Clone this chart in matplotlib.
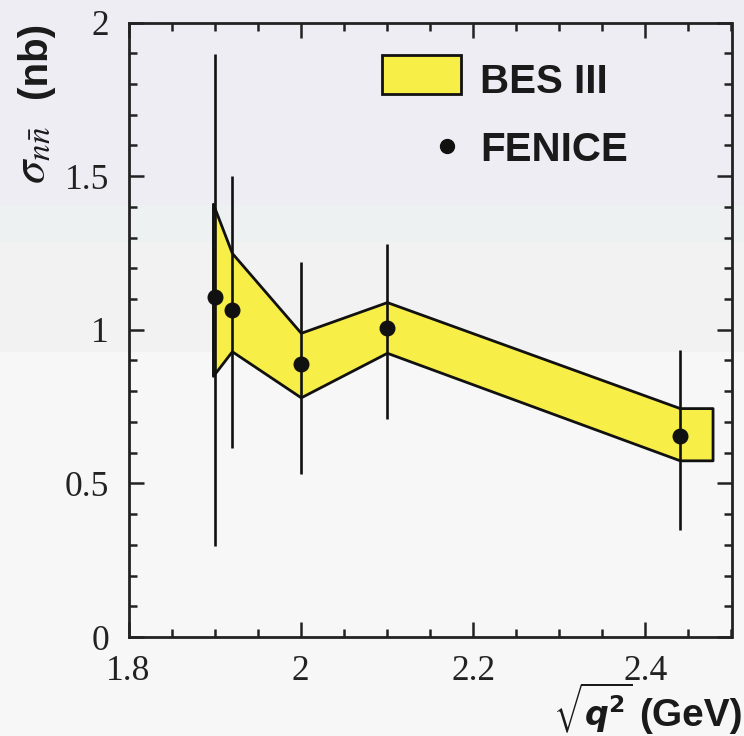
import matplotlib
matplotlib.use("Agg")
import matplotlib.pyplot as plt
from matplotlib.patches import Rectangle
from matplotlib.ticker import MultipleLocator, FixedLocator, FixedFormatter

# BES III band (lower / upper edge of the measured cross section, nb)
band_x = [1.898, 1.92, 2.0, 2.1, 2.44, 2.478]
band_lo = [0.85, 0.93, 0.78, 0.925, 0.575, 0.575]
band_hi = [1.41, 1.25, 0.99, 1.09, 0.745, 0.745]

# FENICE points with asymmetric errors (nb)
fen_x = [1.9, 1.92, 2.0, 2.1, 2.44]
fen_y = [1.107, 1.065, 0.89, 1.005, 0.655]
fen_err_lo = [0.81, 0.45, 0.36, 0.295, 0.307]
fen_err_hi = [0.79, 0.435, 0.33, 0.275, 0.28]

x_ticks = [1.8, 2.0, 2.2, 2.4]
x_ticklabels = ["1.8", "2", "2.2", "2.4"]
y_ticks = [0, 0.5, 1, 1.5, 2]
y_ticklabels = ["0", "0.5", "1", "1.5", "2"]

W, H = 744, 736
fig = plt.figure(figsize=(W / 100, H / 100), dpi=100)

# soft horizontal background bands (pixel rows from the top)
bg_bands = [(0, 205, "#eeedf3"), (205, 242, "#eef1f2"),
            (242, 352, "#f2f2f2"), (352, 736, "#f7f7f7")]
for top, bot, col in bg_bands:
    fig.add_artist(Rectangle((0, 1 - bot / H), 1, (bot - top) / H,
                             transform=fig.transFigure, facecolor=col,
                             edgecolor="none", zorder=-10))

ax = fig.add_axes([128.5 / W, (H - 637) / H, 603 / W, 614.5 / H])
ax.set_facecolor("none")

yellow = "#f8ee48"
ax.fill_between(band_x, band_lo, band_hi, facecolor=yellow,
                edgecolor="#111111", linewidth=2.0, zorder=2)

ax.errorbar(fen_x, fen_y, yerr=[fen_err_lo, fen_err_hi], fmt="o",
            color="#111111", markersize=10.5, elinewidth=1.9, capsize=0,
            zorder=3)

ax.set_xlim(1.8, 2.5)
ax.set_ylim(0, 2)

ax.xaxis.set_major_locator(FixedLocator(x_ticks))
ax.xaxis.set_major_formatter(FixedFormatter(x_ticklabels))
ax.xaxis.set_minor_locator(MultipleLocator(0.05))
ax.yaxis.set_major_locator(FixedLocator(y_ticks))
ax.yaxis.set_major_formatter(FixedFormatter(y_ticklabels))
ax.yaxis.set_minor_locator(MultipleLocator(0.1))

ax.tick_params(which="both", direction="in", top=True, right=True,
               color="#222222", width=1.8)
ax.tick_params(which="major", length=10.5)
ax.tick_params(axis="x", which="major", pad=13)
ax.tick_params(axis="y", which="major", pad=14)
ax.tick_params(which="minor", length=6)
for lab in ax.get_xticklabels() + ax.get_yticklabels():
    lab.set_fontfamily("Liberation Serif")
    lab.set_fontsize(25.5)
    lab.set_color("#222222")
for sp in ax.spines.values():
    sp.set_linewidth(2.0)
    sp.set_color("#222222")

# legend drawn by hand in axes coordinates
ax.add_patch(Rectangle((0.42, 0.8836), 0.131, 0.0634, transform=ax.transAxes,
                       facecolor=yellow, edgecolor="#111111", linewidth=2.0,
                       zorder=4))
ax.text(0.583, 0.8858, "BES III", transform=ax.transAxes, ha="left",
        va="baseline", fontsize=29, fontfamily="Liberation Sans",
        fontweight="bold", color="#1a1a1a")
ax.plot([0.528], [0.799], "o", transform=ax.transAxes, color="#111111",
        markersize=10, zorder=4)
ax.text(0.583, 0.775, "FENICE", transform=ax.transAxes, ha="left",
        va="baseline", fontsize=29, fontfamily="Liberation Sans",
        fontweight="bold", color="#1a1a1a")

# x-axis title: radical part and unit part
x_base = (H - 726) / H
fig.text(743 / W, x_base, "(GeV)", ha="right", va="baseline", fontsize=28,
         fontfamily="Liberation Sans", fontweight="bold", color="#1a1a1a")
fig.text(632 / W, x_base, r"$\sqrt{\mathbfit{q}^{\mathbf{2}}}$",
         ha="right", va="baseline", fontsize=24,
         math_fontfamily="dejavusans", color="#1a1a1a")

# y-axis title
fig.text(54 / W, 1 - 184 / H, r"$\sigma_{n\bar{n}}$", rotation=90,
         ha="right", va="bottom", fontsize=34, math_fontfamily="stix",
         color="#1a1a1a")
fig.text(54 / W, 1 - 98 / H, "(nb)", rotation=90, ha="right", va="bottom",
         fontsize=29, fontfamily="Liberation Sans", fontweight="bold",
         color="#1a1a1a")

fig.savefig("out.png", dpi=100)
